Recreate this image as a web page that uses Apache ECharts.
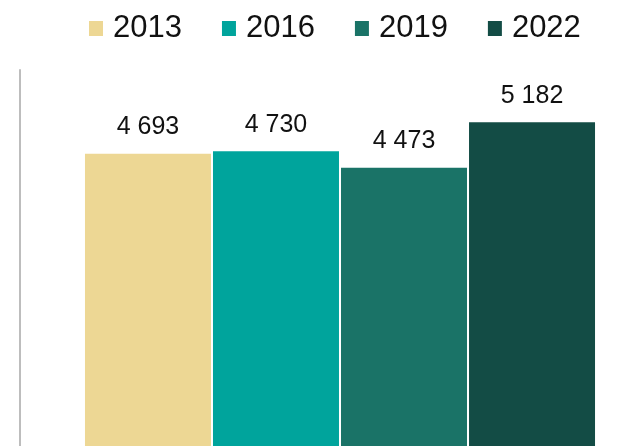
<!DOCTYPE html>
<html>
<head>
<meta charset="utf-8">
<script src="https://cdn.jsdelivr.net/npm/echarts@6/dist/echarts.min.js"></script>
<style>
  html, body { margin: 0; padding: 0; background: #fff; }
  #chart { width: 641px; height: 446px; }
</style>
</head>
<body>
<div id="chart"></div>
<script>
const years = ['2013', '2016', '2019', '2022']
const values = [4693, 4730, 4473, 5182]
const colors = ['#EDD794', '#00A49C', '#1A7367', '#134C45']

const fmt = (v) => String(v).replace(/\B(?=(\d{3})+(?!\d))/g, ' ')

const chart = echarts.init(document.getElementById('chart'))

chart.setOption({
  animation: false,
  legend: {
    left: 89,
    top: 13,
    padding: 0,
    itemWidth: 14,
    itemHeight: 15,
    itemGap: 40,
    icon: 'rect',
    textStyle: {
      fontFamily: 'Liberation Sans',
      fontSize: 31,
      color: '#111',
      padding: [0, 0, 0, 5],
    },
    data: years,
  },
  grid: {
    left: 20,
    top: 70,
    width: 640,
    height: 384,
    outerBoundsMode: 'none',
  },
  xAxis: {
    type: 'category',
    data: [''],
    axisLine: { show: false },
    axisTick: { show: false },
    axisLabel: { show: false },
  },
  yAxis: {
    type: 'value',
    min: 0,
    max: 6000,
    axisLine: {
      show: true,
      lineStyle: { color: '#BDBDBD', width: 2 },
    },
    axisTick: { show: false },
    axisLabel: { show: false },
    splitLine: { show: false },
  },
  series: years.map((y, i) => ({
    name: y,
    type: 'bar',
    data: [values[i]],
    barWidth: 126,
    barGap: '1.6%',
    itemStyle: { color: colors[i] },
    label: {
      show: true,
      position: 'top',
      distance: 14,
      fontFamily: 'Liberation Sans',
      fontSize: 25,
      color: '#111',
      formatter: (p) => fmt(p.value),
    },
  })),
})
</script>
</body>
</html>
